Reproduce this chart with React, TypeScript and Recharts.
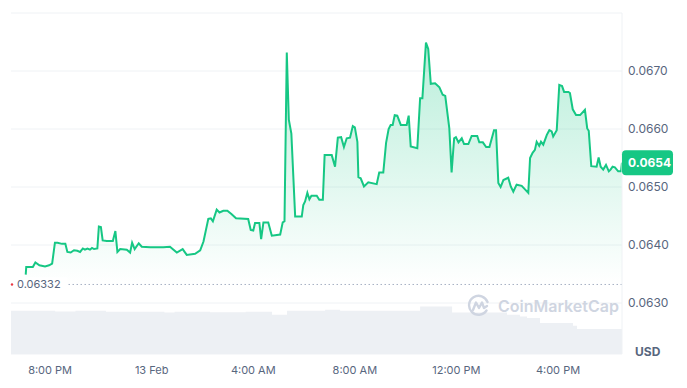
import { ComposedChart, Area, XAxis, YAxis, CartesianGrid, ReferenceLine, ReferenceDot } from 'recharts';

// hours since 12 Feb 00:00
const hours = [
  19.04, 19.06, 19.32, 19.42, 19.58, 19.8, 19.96, 20.08, 20.19, 20.29,
  20.47, 20.6, 20.68, 20.81, 20.94, 21.07, 21.18, 21.29, 21.37, 21.47,
  21.57, 21.65, 21.73, 21.86, 21.92, 22.0, 22.07, 22.23, 22.47, 22.57,
  22.65, 22.76, 23.02, 23.15, 23.23, 23.33, 23.49, 23.61, 23.94, 24.46,
  24.72, 24.99, 25.22, 25.38, 25.71, 25.91, 26.04, 26.23, 26.33, 26.41,
  26.56, 26.67, 26.82, 26.98, 27.15, 27.32, 27.8, 27.9, 28.0, 28.07,
  28.24, 28.31, 28.4, 28.59, 28.73, 29.06, 29.16, 29.23, 29.32, 29.4,
  29.5, 29.65, 29.91, 29.97, 30.04, 30.13, 30.21, 30.29, 30.5, 30.6,
  30.74, 30.81, 31.09, 31.22, 31.33, 31.46, 31.57, 31.68, 31.81, 31.92,
  32.0, 32.1, 32.14, 32.23, 32.36, 32.53, 32.86, 32.96, 33.12, 33.23,
  33.33, 33.41, 33.49, 33.57, 33.67, 33.81, 34.04, 34.12, 34.2, 34.46,
  34.57, 34.66, 34.8, 34.89, 34.99, 35.16, 35.33, 35.46, 35.56, 35.72,
  35.81, 35.91, 35.98, 36.08, 36.21, 36.3, 36.47, 36.6, 36.82, 36.9,
  37.04, 37.17, 37.3, 37.48, 37.56, 37.65, 37.74, 37.85, 38.04, 38.14,
  38.24, 38.37, 38.57, 38.7, 38.83, 38.9, 39.0, 39.09, 39.16, 39.26,
  39.33, 39.42, 39.56, 39.66, 39.75, 39.81, 39.95, 40.05, 40.16, 40.24,
  40.41, 40.47, 40.58, 40.71, 40.87, 41.06, 41.15, 41.21, 41.31, 41.52,
  41.6, 41.68, 41.78, 41.89, 42.0, 42.07, 42.15, 42.24, 42.37, 42.48,
  42.52,
];

const prices = [
  0.06349, 0.06362, 0.06362, 0.0637, 0.06365, 0.06363, 0.06365, 0.06368, 0.06404, 0.06404,
  0.06402, 0.06402, 0.06388, 0.06387, 0.06391, 0.0639, 0.06388, 0.06394, 0.06392, 0.06394,
  0.06392, 0.06395, 0.06393, 0.06394, 0.06432, 0.06431, 0.06408, 0.06407, 0.06407, 0.06424,
  0.06388, 0.06393, 0.06392, 0.06387, 0.06404, 0.06393, 0.06403, 0.06397, 0.06396, 0.06396,
  0.06397, 0.06387, 0.06393, 0.06383, 0.06385, 0.06391, 0.06406, 0.06445, 0.06446, 0.06441,
  0.06461, 0.06456, 0.06459, 0.06459, 0.06453, 0.06446, 0.06445, 0.06426, 0.06425, 0.06438,
  0.06438, 0.0641, 0.06439, 0.06439, 0.06416, 0.06418, 0.06439, 0.06441, 0.06732, 0.06616,
  0.06592, 0.06449, 0.06449, 0.06469, 0.06475, 0.0649, 0.06479, 0.06485, 0.06485, 0.06478,
  0.06478, 0.06555, 0.06555, 0.06535, 0.06585, 0.06586, 0.06569, 0.06584, 0.06585, 0.06605,
  0.06603, 0.06578, 0.06517, 0.06515, 0.06501, 0.06508, 0.06505, 0.06525, 0.06525, 0.06576,
  0.066, 0.06607, 0.06607, 0.06624, 0.06623, 0.06607, 0.06607, 0.06623, 0.0657, 0.06567,
  0.06653, 0.06653, 0.06749, 0.06738, 0.06678, 0.06679, 0.06672, 0.06659, 0.06657, 0.06601,
  0.06525, 0.06584, 0.06586, 0.06577, 0.06584, 0.06574, 0.06574, 0.06588, 0.06588, 0.06577,
  0.06577, 0.06569, 0.06569, 0.06598, 0.06598, 0.06507, 0.065, 0.06512, 0.06516, 0.06501,
  0.06492, 0.06504, 0.06502, 0.06496, 0.0649, 0.0655, 0.06559, 0.06564, 0.06578, 0.06571,
  0.06578, 0.06573, 0.0659, 0.06598, 0.06596, 0.06587, 0.06598, 0.06676, 0.06674, 0.06664,
  0.06664, 0.06662, 0.06634, 0.06624, 0.06624, 0.06633, 0.06601, 0.06597, 0.06536, 0.06535,
  0.06551, 0.06535, 0.0653, 0.06538, 0.06527, 0.0653, 0.06535, 0.06534, 0.06527, 0.06527,
  0.06542,
];

// volume (M USD), step values
const volHours = [18.46, 20.2, 21.0, 22.2, 24.5, 24.9, 26.3, 27.7, 28.74, 29.33, 30.83, 31.42, 34.57, 35.83, 37.99, 38.5, 38.78, 39.29, 40.59, 40.75, 42.52];
const volumes = [4.33, 4.25, 4.33, 4.23, 4.16, 4.23, 4.18, 4.23, 3.93, 4.33, 4.43, 4.33, 4.76, 4.16, 3.93, 3.76, 3.6, 3.1, 2.83, 2.5, 2.5];

const tickHours = [20, 24, 28, 32, 36, 40];
const tickLabels = ['8:00 PM', '13 Feb', '4:00 AM', '8:00 AM', '12:00 PM', '4:00 PM'];
const priceTicks = [0.063, 0.064, 0.065, 0.066, 0.067, 0.068];
const openPrice = 0.06332;

const GREEN = '#16c784';
const GREY = '#58667e';
const FONT = 'Inter, sans-serif';

const priceData = hours.map((t, i) => ({ t, price: prices[i] }));
const volData = volHours.map((t, i) => ({ t, vol: volumes[i] }));
const last = priceData[priceData.length - 1];

// label on the dotted open-price line
const OpenLabel = (props: any) => {
  const { viewBox } = props;
  const x = viewBox.x;
  const y = viewBox.y;
  return (
    <g>
      <rect x={x + 2} y={y - 7} width={54} height={14} fill="#fff" />
      <circle cx={x + 1} cy={y} r={1.2} fill="#ea3943" />
      <text x={x + 6} y={y + 4} fontSize={11} fill={GREY} fontFamily={FONT}>
        {openPrice.toFixed(5)}
      </text>
    </g>
  );
};

const PriceTag = (props: any) => {
  const { cx, cy } = props;
  return (
    <g>
      <rect x={cx} y={cy - 12.5} width={51} height={25} rx={4} fill={GREEN} />
      <text x={cx + 6} y={cy + 4.5} fontSize={12} fontWeight={700} fill="#fff" fontFamily={FONT}>
        {last.price.toFixed(4)}
      </text>
    </g>
  );
};

const PriceTick = (props: any) => {
  const { x, y, payload } = props;
  if (payload.value >= 0.068) return <g />;
  return (
    <text x={x} y={y + 4} fontSize={12} fill={GREY} fontFamily={FONT}>
      {payload.value.toFixed(4)}
    </text>
  );
};

export default function App() {
  return (
    <div style={{ position: 'fixed', left: 0, top: 0, width: 687, height: 388, background: '#fff' }}>
      <ComposedChart width={687} height={388} margin={{ top: 13, right: 0, left: 11, bottom: 0 }}>
        <defs>
          <linearGradient id="priceFill" x1="0" y1="0" x2="0" y2="1">
            <stop offset="0%" stopColor={GREEN} stopOpacity={0.3} />
            <stop offset="100%" stopColor={GREEN} stopOpacity={0} />
          </linearGradient>
        </defs>
        <CartesianGrid yAxisId="price" vertical={false} stroke="#eff2f5" />
        <XAxis
          dataKey="t"
          type="number"
          domain={[18.46, 42.52]}
          ticks={tickHours}
          tickFormatter={(v) => tickLabels[tickHours.indexOf(v)]}
          axisLine={false}
          tickLine={false}
          tickSize={6}
          tickMargin={6}
          height={34}
          tick={{ fontSize: 11, fill: GREY, fontFamily: FONT }}
          allowDataOverflow
        />
        <YAxis
          yAxisId="price"
          orientation="right"
          domain={[0.062121, 0.068]}
          ticks={priceTicks}
          width={65}
          axisLine={{ stroke: '#eff2f5' }}
          tickLine={false}
          tickSize={4}
          tickMargin={2}
          tick={<PriceTick />}
          allowDataOverflow
        />
        <YAxis
          yAxisId="vol"
          orientation="left"
          domain={[0, 34.13]}
          width={0}
          tick={false}
          tickLine={false}
          axisLine={{ stroke: '#eff2f5' }}
          allowDataOverflow
        />
        <Area
          yAxisId="vol"
          data={volData}
          dataKey="vol"
          type="stepAfter"
          stroke="none"
          fill="#edf0f4"
          fillOpacity={1}
          isAnimationActive={false}
          dot={false}
          activeDot={false}
        />
        <ReferenceLine
          yAxisId="price"
          y={openPrice}
          stroke="#a6b0c3"
          strokeDasharray="1.5 2.5"
          label={<OpenLabel />}
        />
        <Area
          yAxisId="price"
          data={priceData}
          dataKey="price"
          type="linear"
          baseValue={openPrice}
          stroke={GREEN}
          strokeWidth={2}
          fill="url(#priceFill)"
          fillOpacity={1}
          isAnimationActive={false}
          dot={false}
          activeDot={false}
        />
        <ReferenceDot
          yAxisId="price"
          x={last.t}
          y={last.price}
          ifOverflow="visible"
          shape={<PriceTag />}
        />
      </ComposedChart>

      {/* watermark */}
      <div style={{ position: 'absolute', left: 467, top: 294, display: 'flex', alignItems: 'center', gap: 7, color: '#cfd5e1', fontFamily: FONT, fontWeight: 600, fontSize: 16 }}>
        <svg width={24} height={24} viewBox="0 0 24 24">
          <path d="M19.5 16.5 A9.5 9.5 0 1 1 20.5 8" fill="none" stroke="#cfd5e1" strokeWidth={2.4} strokeLinecap="round" />
          <path d="M6 16 L9 8.5 L12 14 L15 8.5 L17 14 L20 12" fill="none" stroke="#cfd5e1" strokeWidth={2.4} strokeLinejoin="round" strokeLinecap="round" />
        </svg>
        <span>CoinMarketCap</span>
      </div>

      <div style={{ position: 'absolute', left: 635, top: 344, fontFamily: FONT, fontWeight: 700, fontSize: 12, color: GREY }}>
        USD
      </div>
    </div>
  );
}
